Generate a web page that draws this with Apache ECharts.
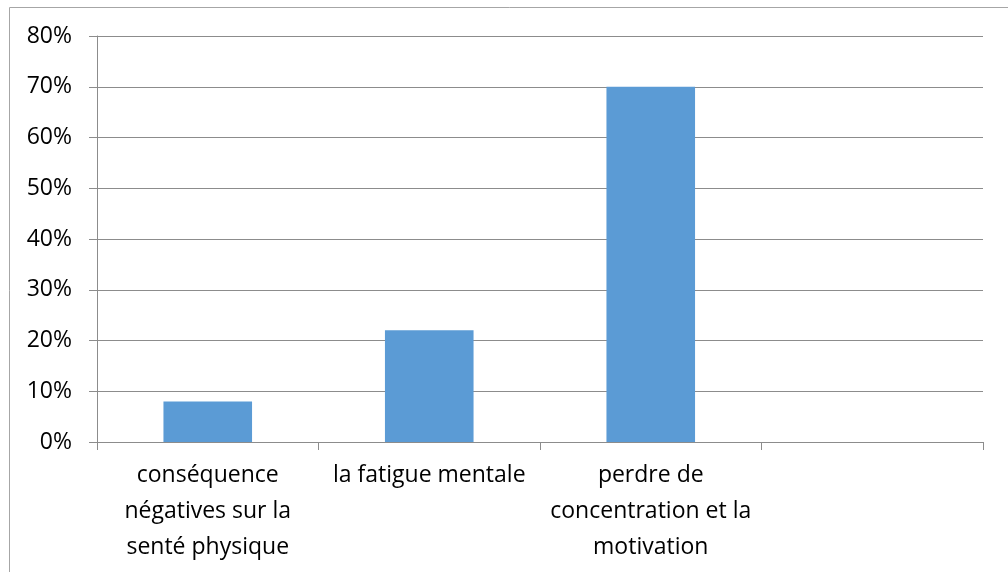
<!DOCTYPE html>
<html>
<head>
<meta charset="utf-8">
<script src="https://cdn.jsdelivr.net/npm/echarts@6/dist/echarts.min.js"></script>
<style>
  html, body { margin: 0; padding: 0; background: #fff; }
  #chart { width: 1008px; height: 572px; }
</style>
</head>
<body>
<div id="chart"></div>
<script>
  const categories = [
    'conséquence\nnégatives sur la\nsenté physique',
    'la fatigue mentale',
    'perdre de\nconcentration et la\nmotivation',
    ''
  ]
  const values = [8, 22, 70, null]
  const yTicks = [0, 10, 20, 30, 40, 50, 60, 70, 80]

  const font = '"Open Sans", sans-serif'
  const lineColor = '#8c8c8c'

  const chart = echarts.init(document.getElementById('chart'))
  chart.setOption({
    animation: false,
    graphic: [{
      type: 'rect',
      shape: { x: 9.5, y: 7.5, width: 1100, height: 700 },
      style: { fill: 'none', stroke: '#a6a6a6', lineWidth: 1 },
      silent: true
    }],
    grid: {
      left: 97,
      right: 25,
      top: 36,
      bottom: 130
    },
    xAxis: {
      type: 'category',
      data: categories,
      axisLine: { show: true, lineStyle: { color: lineColor, width: 1 } },
      axisTick: { show: true, alignWithLabel: false, length: 8, lineStyle: { color: lineColor } },
      axisLabel: {
        interval: 0,
        margin: 15,
        color: '#000',
        fontFamily: font,
        fontSize: 23,
        lineHeight: 36,
        align: 'center'
      }
    },
    yAxis: {
      type: 'value',
      min: yTicks[0],
      max: yTicks[yTicks.length - 1],
      interval: 10,
      axisLine: { show: true, lineStyle: { color: lineColor, width: 1 } },
      axisTick: { show: true, length: 8, lineStyle: { color: lineColor } },
      splitLine: { show: true, lineStyle: { color: lineColor, width: 1 } },
      axisLabel: {
        formatter: '{value}%',
        margin: 25,
        color: '#000',
        fontFamily: font,
        fontSize: 23
      }
    },
    series: [{
      type: 'bar',
      data: values,
      barWidth: '40%',
      itemStyle: { color: '#5b9bd5' }
    }]
  })
</script>
</body>
</html>
